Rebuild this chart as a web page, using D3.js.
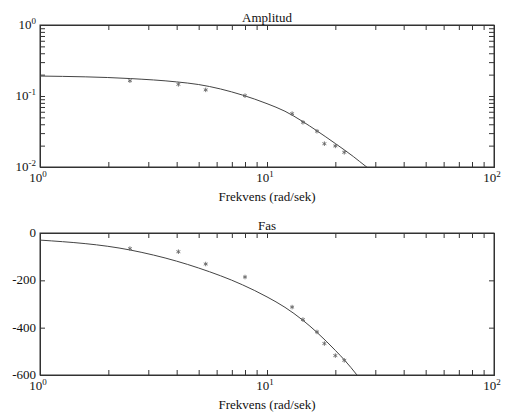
<!DOCTYPE html>
<html>
<head>
<meta charset="utf-8">
<script src="https://cdn.jsdelivr.net/npm/d3@7"></script>
<style>
html,body{margin:0;padding:0;background:#fff;}
svg text{font-family:"Liberation Serif","Times New Roman","DejaVu Serif",serif;fill:#111;}
</style>
</head>
<body>
<svg id="chart" width="508" height="419" font-family="Liberation Serif, Times New Roman, DejaVu Serif, serif"></svg>
<script>
// ---- data ----
const curveFreq = [1, 2.5, 4, 5, 7.8, 10, 12, 14.4, 16.5, 20, 24, 27.3, 30];
const ampCurve  = [0.191, 0.176, 0.158, 0.145, 0.103, 0.078, 0.061, 0.0435, 0.0327, 0.0214, 0.01406, 0.01016, 0.00818];
const phaseFreq = [1, 2.5, 4, 5, 7.8, 10, 12, 14.4, 16.6, 20, 22, 25, 27];
const phaseCurve = [-30, -72, -119, -148, -219, -270, -314, -369, -420, -496, -538, -602, -644];
const measFreq  = [2.49, 4.07, 5.37, 8.0, 12.9, 14.4, 16.6, 17.9, 20.0, 21.9];
const ampMeas   = [0.164, 0.146, 0.122, 0.101, 0.0564, 0.0426, 0.0319, 0.0213, 0.0198, 0.0161];
const phaseMeas = [-66, -79, -131, -186, -313, -366, -418, -467, -518, -538];
const xTickExp = [0, 1, 2];
const ampTickExp = [0, -1, -2];
const phaseTicks = [0, -200, -400, -600];
const titles = ["Amplitud", "Fas"];
const xLabel = "Frekvens (rad/sek)";

const FONT = "Liberation Serif, Times New Roman, DejaVu Serif, serif";
const svg = d3.select("#chart");
const L = 40, R = 494;
const panels = [{top: 25, bottom: 167}, {top: 233, bottom: 375}];
const axisColor = "#333";

const x = d3.scaleLog().domain([1, 100]).range([L, R]);
const yAmp = d3.scaleLog().domain([0.01, 1]).range([panels[0].bottom, panels[0].top]);
const yPh = d3.scaleLinear().domain([-600, 0]).range([panels[1].bottom, panels[1].top]);

const xTicks = [];
for (let d = 1; d < 100; d *= 10) for (let k = 1; k < 10; k++) xTicks.push(d * k);
xTicks.push(100);
const yAmpTicks = [];
for (let d = 0.01; d < 0.99; d *= 10) for (let k = 1; k < 10; k++) yAmpTicks.push(d * k);
yAmpTicks.push(1);

function txt(g, xPos, yPos, anchor) {
  return g.append("text").attr("x", xPos).attr("y", yPos)
    .attr("text-anchor", anchor).attr("font-family", FONT)
    .style("font-size", "13px").attr("fill", "#111");
}

function supLabel(g, base, exp, xPos, yPos, anchor) {
  const t = txt(g, xPos, yPos, anchor);
  t.append("tspan").text(base);
  t.append("tspan").attr("dy", -5).style("font-size", "9px").text(exp);
  return t;
}

function drawFrame(p, yScale, yTickVals, i) {
  const g = svg.append("g");
  const h = p.bottom - p.top;
  g.append("g").attr("transform", `translate(0,${p.bottom})`)
    .call(d3.axisBottom(x).tickValues(xTicks).tickSize(-5).tickFormat(""));
  g.append("g").attr("transform", `translate(0,${p.top})`)
    .call(d3.axisTop(x).tickValues(xTicks).tickSize(-5).tickFormat(""));
  g.append("g").attr("transform", `translate(${L},0)`)
    .call(d3.axisLeft(yScale).tickValues(yTickVals).tickSize(-5).tickFormat(""));
  g.append("g").attr("transform", `translate(${R},0)`)
    .call(d3.axisRight(yScale).tickValues(yTickVals).tickSize(-5).tickFormat(""));
  g.selectAll(".domain").attr("stroke", axisColor);
  g.selectAll(".tick line").attr("stroke", axisColor);
  g.append("rect").attr("x", L).attr("y", p.top).attr("width", R - L).attr("height", h)
    .attr("fill", "none").attr("stroke", axisColor).attr("stroke-width", 1);
  xTickExp.forEach(e => supLabel(g, "10", String(e), x(Math.pow(10, e)) - 2, p.bottom + 15, "middle"));
  txt(g, (L + R) / 2, p.top - 3, "middle").text(titles[i]);
  txt(g, (L + R) / 2, p.bottom + 34, "middle").text(xLabel);
  svg.append("clipPath").attr("id", "clip" + i).append("rect")
    .attr("x", L).attr("y", p.top).attr("width", R - L).attr("height", h);
  return g;
}

// ---- panel 1: amplitude ----
const g1 = drawFrame(panels[0], yAmp, yAmpTicks, 0);
ampTickExp.forEach(e => supLabel(g1, "10", String(e), L - 4, yAmp(Math.pow(10, e)) + 4, "end"));

const line = d3.line().curve(d3.curveMonotoneX);
svg.append("path").attr("clip-path", "url(#clip0)")
  .attr("d", line(curveFreq.map((f, k) => [x(f), yAmp(ampCurve[k])])))
  .attr("fill", "none").attr("stroke", "#444").attr("stroke-width", 1);

const star = d3.symbol().type(d3.symbolAsterisk).size(14);
svg.append("g").selectAll("path").data(measFreq).join("path")
  .attr("transform", (f, k) => `translate(${x(f)},${yAmp(ampMeas[k])})`)
  .attr("d", star).attr("fill", "none").attr("stroke", "#666").attr("stroke-width", 0.9);

// ---- panel 2: phase ----
const g2 = drawFrame(panels[1], yPh, phaseTicks, 1);
phaseTicks.forEach(v => txt(g2, L - 4, yPh(v) + 4, "end").text(String(v)));

svg.append("path").attr("clip-path", "url(#clip1)")
  .attr("d", line(phaseFreq.map((f, k) => [x(f), yPh(phaseCurve[k])])))
  .attr("fill", "none").attr("stroke", "#444").attr("stroke-width", 1);

svg.append("g").selectAll("path").data(measFreq).join("path")
  .attr("transform", (f, k) => `translate(${x(f)},${yPh(phaseMeas[k])})`)
  .attr("d", star).attr("fill", "none").attr("stroke", "#666").attr("stroke-width", 0.9);
</script>
</body>
</html>
